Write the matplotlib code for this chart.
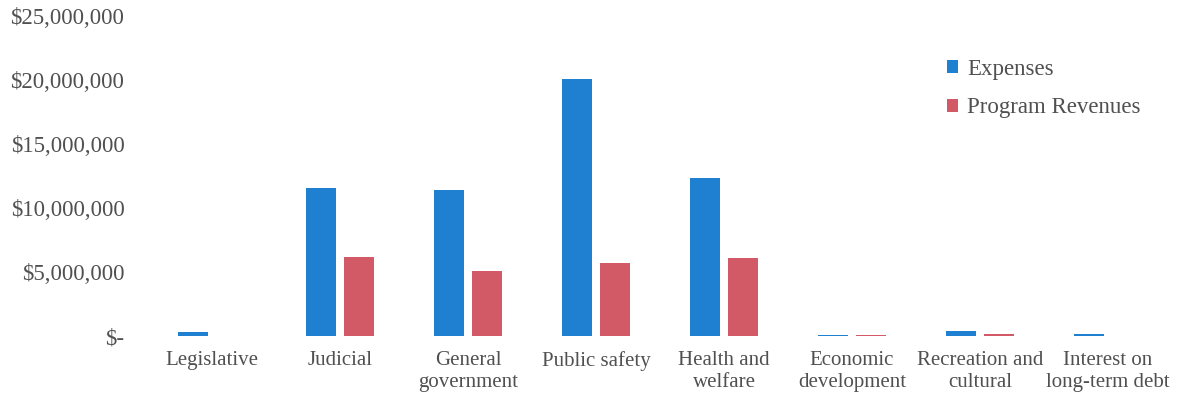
import numpy as np
import matplotlib.pyplot as plt
from matplotlib.ticker import FuncFormatter

categories = ['Legislative', 'Judicial', 'General\ngovernment', 'Public safety',
              'Health and\nwelfare', 'Economic\ndevelopment', 'Recreation and\ncultural',
              'Interest on\nlong-term debt']
expenses = [300000, 11550000, 11400000, 20080000, 12350000, 60000, 420000, 120000]
revenues = [0, 6170000, 5080000, 5700000, 6100000, 50000, 160000, 0]

plt.rcParams['font.family'] = ['Liberation Serif', 'DejaVu Serif']
text_color = '#505050'

fig = plt.figure(figsize=(11.77, 4.0), dpi=100)
ax = fig.add_axes([148 / 1177, 64 / 400, 1024 / 1177, 320 / 400])

x = np.arange(len(categories))
w = 0.235
ax.bar(x - 0.145, expenses, w, color='#1f7fd1', label='Expenses')
ax.bar(x + 0.145, revenues, w, color='#d25a66', label='Program Revenues')

ax.set_xlim(-0.5, len(categories) - 0.5)
ax.set_ylim(0, 25000000)
ax.set_yticks(np.arange(0, 25000001, 5000000))


def money(v, pos):
    if v == 0:
        return '$-'
    return '${:,.0f}'.format(v)


ax.yaxis.set_major_formatter(FuncFormatter(money))
ax.set_xticks(x)
ax.set_xticklabels(categories, linespacing=1.18)
ax.tick_params(axis='both', length=0, colors=text_color)
ax.tick_params(axis='x', pad=11, labelsize=15)
ax.tick_params(axis='y', pad=17, labelsize=16.5)
for s in ax.spines.values():
    s.set_visible(False)

leg = ax.legend(loc='upper left', bbox_to_anchor=(0.76, 0.93), frameon=False,
                fontsize=16.5, handlelength=0.5, handleheight=0.5, handletextpad=0.4,
                labelspacing=0.75)
for t in leg.get_texts():
    t.set_color(text_color)

fig.savefig('out.png', dpi=100, facecolor='white')
